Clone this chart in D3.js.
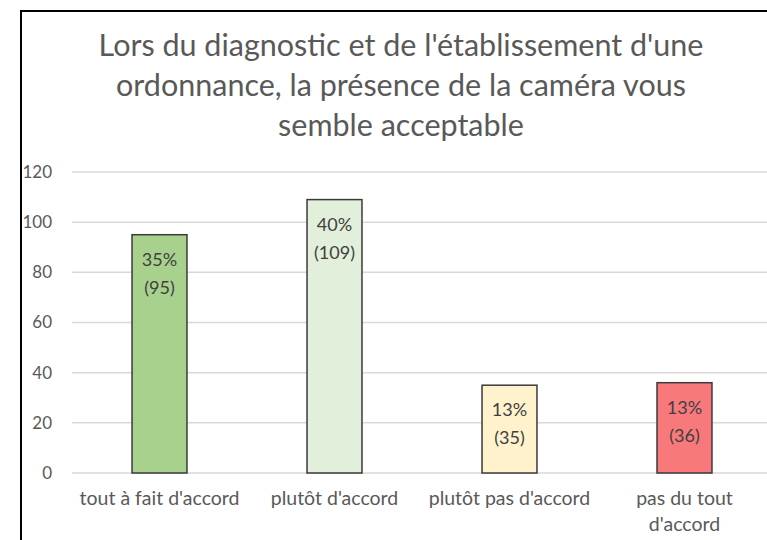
<!DOCTYPE html>
<html>
<head>
<meta charset="utf-8">
<script src="https://cdn.jsdelivr.net/npm/d3@7"></script>
<style>
  body { margin: 0; background: #fff; }
  svg { display: block; font-family: Lato, "Open Sans", sans-serif; }
</style>
</head>
<body>
<div id="chart"></div>
<script>
// Chart data
const titleLines = [
    "Lors du diagnostic et de l'établissement d'une",
    "ordonnance, la présence de la caméra vous",
    "semble acceptable"
];
const categories = [
    ["tout à fait d'accord"],
    ["plutôt d'accord"],
    ["plutôt pas d'accord"],
    ["pas du tout", "d'accord"]
];
const counts = [95, 109, 35, 36];
const percents = ["35%", "40%", "13%", "13%"];
const barColors = ["#a9d18e", "#e2efda", "#fff2cc", "#f8797b"];
const yTicks = [0, 20, 40, 60, 80, 100, 120];

const width = 767, height = 540;

const svg = d3.select('#chart')
    .append('svg')
    .attr('width', width)
    .attr('height', height);

// Outer chart frame (cropped on right and bottom)
svg.append('rect')
    .attr('x', 21)
    .attr('y', 11)
    .attr('width', 780)
    .attr('height', 560)
    .attr('fill', '#fff')
    .attr('stroke', '#000')
    .attr('stroke-width', 2);

// Title
svg.append('text')
    .attr('text-anchor', 'middle')
    .attr('fill', '#595959')
    .style('font-size', '30.5px')
    .selectAll('tspan')
    .data(titleLines)
    .join('tspan')
    .attr('x', 401)
    .attr('y', (d, i) => 56 + i * 40)
    .text(d => d);

// Scales
const x = d3.scaleBand()
    .domain(d3.range(categories.length))
    .range([72, 772])
    .paddingInner(0.686)
    .paddingOuter(0.343);

const y = d3.scaleLinear()
    .domain([0, 120])
    .range([473, 172]);

// Gridlines
svg.append('g')
    .selectAll('line')
    .data(yTicks)
    .join('line')
    .attr('x1', 72)
    .attr('x2', 772)
    .attr('y1', d => y(d))
    .attr('y2', d => y(d))
    .attr('stroke', '#d9d9d9')
    .attr('stroke-width', 1.5);

// Y axis labels
const yAxis = d3.axisLeft(y)
    .tickValues(yTicks)
    .tickSize(0)
    .tickPadding(0);

svg.append('g')
    .attr('transform', 'translate(52,0)')
    .call(yAxis)
    .call(g => g.select('.domain').remove())
    .call(g => g.selectAll('text')
        .attr('fill', '#595959')
        .style('font-family', 'Lato, sans-serif')
        .style('font-size', '17px'));

// Bars
svg.append('g')
    .selectAll('rect')
    .data(counts)
    .join('rect')
    .attr('x', (d, i) => x(i))
    .attr('y', d => y(d))
    .attr('width', x.bandwidth())
    .attr('height', d => y(0) - y(d))
    .attr('fill', (d, i) => barColors[i])
    .attr('stroke', '#3a3a3a')
    .attr('stroke-width', 1.5);

// Data labels inside bars
const labels = svg.append('g')
    .selectAll('text')
    .data(counts)
    .join('text')
    .attr('text-anchor', 'middle')
    .attr('fill', '#404040')
    .style('font-size', '18px');

labels.append('tspan')
    .attr('x', (d, i) => x(i) + x.bandwidth() / 2)
    .attr('y', d => y(d) + 31)
    .text((d, i) => percents[i]);

labels.append('tspan')
    .attr('x', (d, i) => x(i) + x.bandwidth() / 2)
    .attr('y', d => y(d) + 59)
    .text(d => `(${d})`);

// Category labels
svg.append('g')
    .selectAll('text')
    .data(categories)
    .join('text')
    .attr('text-anchor', 'middle')
    .attr('fill', '#595959')
    .style('font-size', '19.5px')
    .selectAll('tspan')
    .data((d, i) => d.map(t => ({ t, i })))
    .join('tspan')
    .attr('x', d => x(d.i) + x.bandwidth() / 2)
    .attr('y', (d, j) => 505 + j * 26)
    .text(d => d.t);
</script>
</body>
</html>
